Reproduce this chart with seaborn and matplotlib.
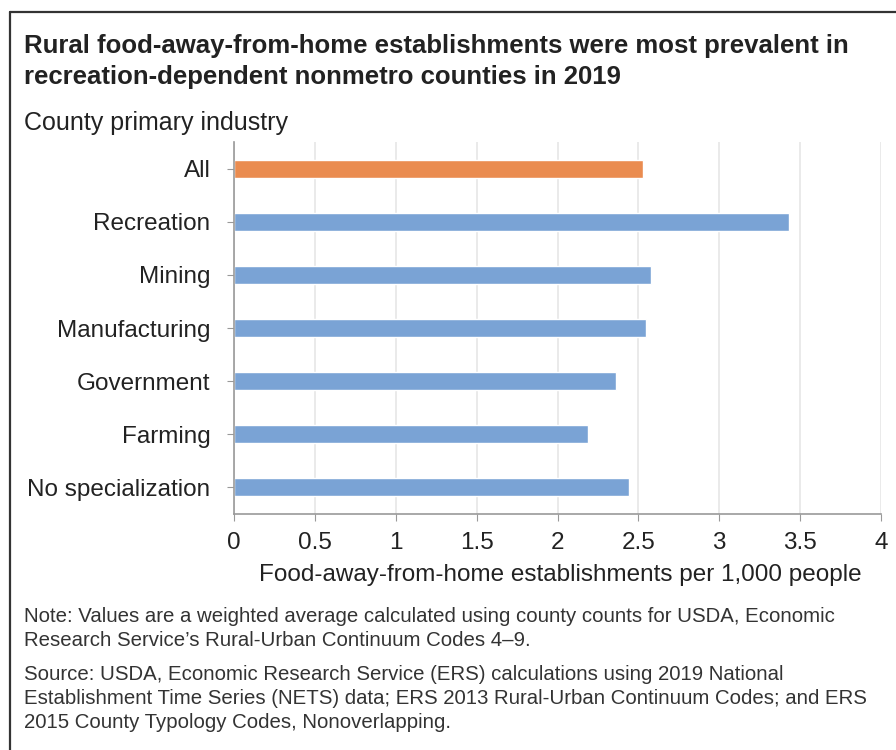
import matplotlib
matplotlib.use('Agg')
import matplotlib.pyplot as plt
import seaborn as sns
import pandas as pd

# ── Data ──────────────────────────────────────────────────────────────────────
industries = ['All', 'Recreation', 'Mining', 'Manufacturing',
              'Government', 'Farming', 'No specialization']
values = [2.53, 3.43, 2.58, 2.55, 2.36, 2.19, 2.44]
groups = ['All', 'Type', 'Type', 'Type', 'Type', 'Type', 'Type']
x_ticks = [0, 0.5, 1, 1.5, 2, 2.5, 3, 3.5, 4]
x_ticklabels = ['0', '0.5', '1', '1.5', '2', '2.5', '3', '3.5', '4']

df = pd.DataFrame({'industry': industries, 'value': values, 'group': groups})

ORANGE = '#EA8C50'
BLUE = '#7AA3D5'

sns.set_style('white')
plt.rcParams['font.family'] = ['Liberation Sans', 'DejaVu Sans']

fig = plt.figure(figsize=(8.96, 7.5), dpi=100)
ax = fig.add_axes([234 / 896, 1 - 514 / 750, (881 - 234) / 896, (514 - 142) / 750])

sns.barplot(data=df, x='value', y='industry', hue='group', order=industries,
            palette={'All': ORANGE, 'Type': BLUE}, dodge=False, width=0.34,
            saturation=1, legend=False, ax=ax)

ax.set_xlim(0, 4)
ax.set_ylim(6.5, -0.5)
ax.set_xticks(x_ticks)
ax.set_xticklabels(x_ticklabels)
ax.xaxis.grid(True, color='#e6e6e6', linewidth=1.2)
ax.set_axisbelow(True)
for s in ['top', 'right']:
    ax.spines[s].set_visible(False)
for s in ['left', 'bottom']:
    ax.spines[s].set_color('#999999')
    ax.spines[s].set_linewidth(1.2)
ax.tick_params(axis='both', which='both', length=5, color='#999999',
               labelsize=17.5, labelcolor='#222222',
               bottom=True, left=True)
ax.tick_params(axis='y', pad=12)
ax.tick_params(axis='x', pad=8)
ax.set_ylabel('')
ax.set_xlabel('')

# ── Text ──────────────────────────────────────────────────────────────────────
fig.text(24 / 896, 1 - 46 / 750,
         'Rural food-away-from-home establishments were most prevalent in',
         fontsize=18.5, fontweight='bold', color='#222222', va='center')
fig.text(24 / 896, 1 - 77 / 750,
         'recreation-dependent nonmetro counties in 2019',
         fontsize=18.5, fontweight='bold', color='#222222', va='center')
fig.text(24 / 896, 1 - 123 / 750, 'County primary industry',
         fontsize=18, color='#222222', va='center')
fig.text(560 / 896, 1 - 575 / 750,
         'Food-away-from-home establishments per 1,000 people',
         fontsize=17.5, color='#222222', va='center', ha='center')

notes = [
    (616, 'Note: Values are a weighted average calculated using county counts for USDA, Economic'),
    (640, 'Research Service\u2019s Rural-Urban Continuum Codes 4\u20139.'),
    (675, 'Source: USDA, Economic Research Service (ERS) calculations using 2019 National'),
    (699, 'Establishment Time Series (NETS) data; ERS 2013 Rural-Urban Continuum Codes; and ERS'),
    (723, '2015 County Typology Codes, Nonoverlapping.'),
]
for y, t in notes:
    fig.text(24 / 896, 1 - y / 750, t, fontsize=14.7, color='#333333', va='center')

# frame lines (left and top)
fig.add_artist(plt.Line2D([10 / 896, 10 / 896], [0, 1 - 12 / 750],
                          color='#333333', linewidth=1.6))
fig.add_artist(plt.Line2D([10 / 896, 1], [1 - 12 / 750, 1 - 12 / 750],
                          color='#333333', linewidth=1.6))

fig.savefig('out.png', dpi=100)
plt.close(fig)
